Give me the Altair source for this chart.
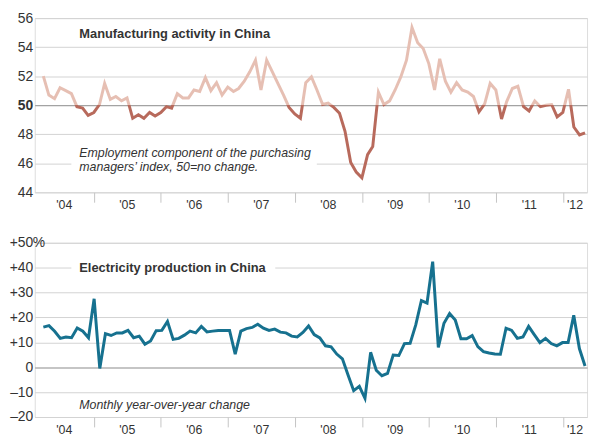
import altair as alt
import pandas as pd

# ---------------- data ----------------
first_month = "2004-04-01"
last_month = "2012-05-01"

# Employment component of the manufacturing PMI, monthly Apr 2004 - May 2012
mfg_values = [
    52.0, 50.7, 50.45, 51.2, 51.0, 50.8, 49.9, 49.8, 49.3,
    49.5, 50.05, 51.5, 50.4, 50.6, 50.3, 50.5, 49.1, 49.35, 49.1, 49.5, 49.25,
    49.5, 49.9, 49.8, 50.8, 50.5, 50.5, 51.05, 50.95, 51.9, 51.0, 51.55, 50.7,
    51.25, 50.95, 51.15, 51.65, 52.3, 53.1, 51.05, 53.1, 52.3, 51.5, 50.7, 49.85,
    49.4, 49.1, 51.55, 51.95, 51.05, 50.05, 50.15, 49.85, 49.45, 48.2, 46.05, 45.4,
    45.0, 46.6, 47.15, 50.9, 50.05, 50.3, 51.05, 51.95, 53.1, 55.35, 54.3, 53.9,
    52.85, 51.05, 53.2, 51.65, 50.9, 51.55, 51.05, 50.9, 50.6, 49.55, 50.1, 51.5,
    51.05, 49.05, 50.25, 51.15, 51.3, 49.9, 49.6, 50.3, 49.9, 50.0, 50.05, 49.2,
    49.5, 51.1, 48.5, 47.95, 48.1,
]

# Electricity production, % change year over year
elec_values = [
    16.1, 16.7, 14.45, 11.6, 12.1, 11.85, 15.75, 14.45, 11.85,
    27.5, -0.5, 13.5, 12.75, 13.8, 13.8, 14.85, 11.85, 12.5, 9.25, 10.55, 14.7,
    14.8, 18.4, 11.2, 11.6, 12.9, 14.5, 13.8, 16.4, 14.2, 14.5, 14.8, 14.8,
    14.8, 5.3, 14.5, 15.5, 16.0, 17.3, 15.7, 14.8, 15.3, 14.1, 13.8, 12.5,
    12.2, 14.0, 16.6, 13.1, 11.8, 8.6, 8.2, 5.3, 3.4, -3.1, -9.4, -7.7,
    -12.5, 6.0, -1.2, -3.4, -2.5, 4.9, 4.7, 9.5, 9.6, 17.0, 26.8, 25.8,
    42.4, 8.0, 17.7, 21.6, 19.0, 11.45, 11.45, 12.7, 8.3, 6.25, 5.7, 5.3,
    5.2, 15.7, 14.8, 11.6, 12.2, 16.4, 13.1, 9.9, 11.6, 9.5, 8.6, 9.9,
    9.9, 20.9, 7.5, 0.5,
]

years = [2004, 2005, 2006, 2007, 2008, 2009, 2010, 2011, 2012]
year_labels = ["'04", "'05", "'06", "'07", "'08", "'09", "'10", "'11", "'12"]
mfg_ticks = [44, 46, 48, 50, 52, 54, 56]
elec_ticks = [-20, -10, 0, 10, 20, 30, 40, 50]

mfg_title = "Manufacturing activity in China"
mfg_note = ["Employment component of the purchasing", "managers\u2019 index, 50=no change."]
elec_title = "Electricity production in China"
elec_note = "Monthly year-over-year change"

# ---------------- styling ----------------
FONT = "Liberation Sans"
TXT = "#333333"
GRID = "#d2d2d2"
BASE = "#8a8a8a"
LIGHT = "#e6bfb3"
DARK = "#b86a5c"
TEAL = "#16718f"
W = 558
H = 176
X_START = pd.Timestamp("2004-02-14")
X_END = pd.Timestamp("2012-05-12")


def iso(ts):
    return pd.Timestamp(ts).strftime("%Y-%m-%dT%H:%M:%SZ")


mfg_df = pd.DataFrame({
    "date": [iso(d) for d in pd.date_range(first_month, last_month, freq="MS")],
    "value": mfg_values,
})
elec_df = pd.DataFrame({
    "date": [iso(d) for d in pd.date_range(first_month, last_month, periods=len(elec_values))],
    "value": elec_values,
})

mids = []
for y in years:
    lo = max(X_START, pd.Timestamp(f"{y}-01-01"))
    hi = min(X_END, pd.Timestamp(f"{y + 1}-01-01"))
    mids.append(iso(lo + (hi - lo) / 2))
year_df = pd.DataFrame({"mid": mids, "label": year_labels})


def dt(ts):
    ts = pd.Timestamp(ts)
    return alt.DateTime(year=ts.year, month=ts.month, date=ts.day, utc=True)


x_scale = alt.Scale(type="utc", domain=[dt(X_START), dt(X_END)])
x_axis = alt.Axis(
    values=[dt(f"{y}-01-01") for y in years[1:]],
    labels=False, ticks=True, tickSize=10, tickColor="#c4c4c4", tickWidth=1,
    domain=False, grid=False, title=None,
)


def y_axis(ticks, base, expr, bold_base=False):
    kw = dict(
        values=ticks, title=None, domain=False, ticks=False,
        labelFont=FONT, labelFontSize=14, labelColor=TXT, labelPadding=2,
        labelExpr=expr,
        gridColor={"condition": {"test": f"datum.value === {base}", "value": BASE}, "value": GRID},
        gridWidth=1,
    )
    if bold_base:
        kw["labelFontWeight"] = {"condition": {"test": f"datum.value === {base}", "value": "bold"},
                                 "value": "normal"}
    return alt.Axis(**kw)


def text_layer(txt, x, y, **kw):
    return alt.Chart(pd.DataFrame({"t": [txt]})).mark_text(
        align="left", baseline="middle", font=FONT, color=TXT, **kw
    ).encode(text="t:N", x=alt.value(x), y=alt.value(y))


def box_layer(x, x2, y, y2):
    return alt.Chart(pd.DataFrame({"t": [0]})).mark_rect(color="white").encode(
        x=alt.value(x), x2=alt.value(x2), y=alt.value(y), y2=alt.value(y2)
    )


def year_layer():
    return alt.Chart(year_df).mark_text(
        font=FONT, fontSize=12.5, color=TXT, baseline="middle", align="center"
    ).encode(
        x=alt.X("mid:T", scale=x_scale, axis=x_axis),
        y=alt.value(H + 13),
        text="label:N",
    )


# ---------------- top panel ----------------
m_lo, m_hi = 44, 56
ypx_m = lambda v: (m_hi - v) / (m_hi - m_lo) * H
vmax, vmin = max(mfg_values), min(mfg_values)
cut = (vmax - 50) / (vmax - vmin)
grad = alt.Gradient(
    gradient="linear", x1=0, x2=0, y1=0, y2=1,
    stops=[
        alt.GradientStop(offset=0, color=LIGHT),
        alt.GradientStop(offset=cut, color=LIGHT),
        alt.GradientStop(offset=cut, color=DARK),
        alt.GradientStop(offset=1, color=DARK),
    ],
)
y_m = alt.Y("value:Q", scale=alt.Scale(domain=[m_lo, m_hi], nice=False, zero=False),
            axis=y_axis(mfg_ticks, 50, "datum.value", bold_base=True))
mfg_line = alt.Chart(mfg_df).mark_line(strokeWidth=3, color=grad).encode(
    x=alt.X("date:T", scale=x_scale, axis=x_axis), y=y_m
)
top = alt.layer(
    mfg_line,
    box_layer(37, 285, ypx_m(46.85), ypx_m(45.3)),
    text_layer(mfg_title, 45, ypx_m(54.9), fontSize=13, fontWeight="bold"),
    text_layer(mfg_note[0], 45, ypx_m(46.72), fontSize=12.5, fontStyle="italic"),
    text_layer(mfg_note[1], 45, ypx_m(45.72), fontSize=12.5, fontStyle="italic"),
    year_layer(),
).properties(width=W, height=H)

# ---------------- bottom panel ----------------
e_lo, e_hi = -20, 50
ypx_e = lambda v: (e_hi - v) / (e_hi - e_lo) * H
e_expr = "datum.value > 0 ? '+' + datum.value : (datum.value < 0 ? '\u2013' + abs(datum.value) : '0')"
y_e = alt.Y("value:Q", scale=alt.Scale(domain=[e_lo, e_hi], nice=False, zero=False),
            axis=y_axis(elec_ticks, 0, e_expr))
elec_line = alt.Chart(elec_df).mark_line(strokeWidth=3, color=TEAL).encode(
    x=alt.X("date:T", scale=x_scale, axis=x_axis), y=y_e
)
bottom = alt.layer(
    elec_line,
    box_layer(37, 243, ypx_e(43.2), ypx_e(36.6)),
    text_layer(elec_title, 45, ypx_e(39.85), fontSize=13, fontWeight="bold"),
    text_layer(elec_note, 45, ypx_e(-15.1), fontSize=12.5, fontStyle="italic"),
    text_layer("%", -2, ypx_e(50), fontSize=14),
    year_layer(),
).properties(width=W, height=H)

chart = alt.vconcat(top, bottom, spacing=23).properties(
    padding=0
).configure_view(stroke=None).configure(background="white")

chart.save("out.html", embed_options={"renderer": "svg", "actions": False})
